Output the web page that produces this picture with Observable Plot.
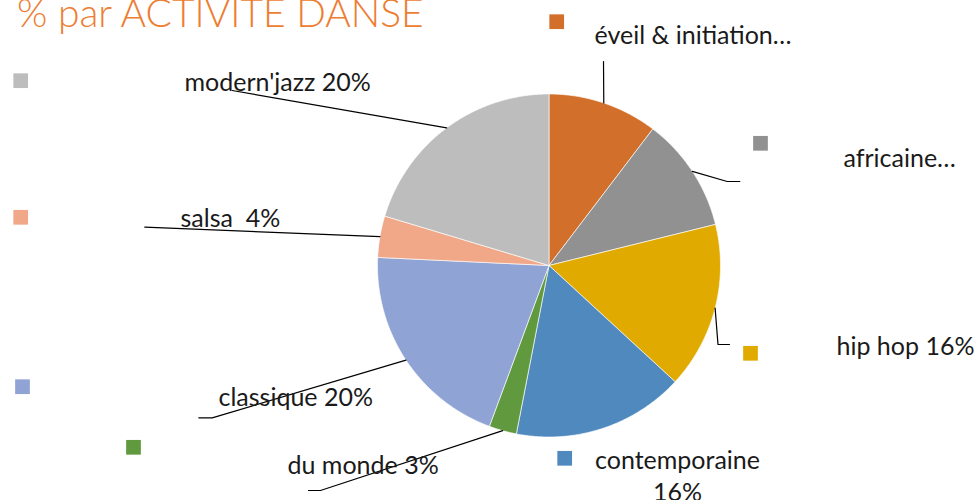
<!DOCTYPE html>
<html><head><meta charset="utf-8">
<script src="https://cdn.jsdelivr.net/npm/d3@7"></script>
<script src="https://cdn.jsdelivr.net/npm/@observablehq/plot@0.6"></script>
<style>
body{margin:0;background:#fff;}
#wrap{position:relative;width:976px;height:500px;overflow:hidden;}
#title{position:absolute;left:17px;top:-7px;margin:0;font-family:Lato,sans-serif;font-weight:300;font-size:39px;line-height:39px;color:#ED7D31;white-space:nowrap;z-index:2;}
#chart svg text{white-space:pre;}
</style></head><body>
<div id="wrap"><div id="title">% par ACTIVITE DANSE</div><div id="chart"></div></div>
<script>
// ---- data ----
const categories = ["éveil & initiation", "africaine", "hip hop", "contemporaine", "du monde", "classique", "salsa", "modern'jazz"];
const shares = [10.35, 10.8, 15.7, 16.2, 2.6, 20.1, 3.9, 20.35];
const labelTexts = ["éveil & initiation…", "africaine…", "hip hop 16%", "contemporaine\n16%", "du monde 3%", "classique 20%", "salsa  4%", "modern'jazz 20%"];

// ---- styles / layout (kept apart from the data) ----
const colors = ["#D2702B", "#919191", "#E1AA00", "#4F89BE", "#619A3E", "#8FA4D5", "#F0A889", "#BDBDBD"];
const W = 976, H = 500, cx = 548.5, cy = 265, R = 171.5;
const labelPos = [[594, 43, "start"], [843, 166, "start"], [836, 354, "start"], [677, 500, "middle"], [287, 473, "start"], [218, 405, "start"], [180, 226, "start"], [184, 90, "start"]];
const markerPos = [[556.7, 21.7], [760.5, 143.3], [750.5, 353.3], [564.7, 458.3], [133.5, 447.3], [22.5, 386.7], [20.7, 217.3], [20.7, 80.7]];
const leaderBends = [[[603, 61]], [[726.7, 181], [739.3, 181]], [[717.5, 344], [729, 344]], null, [[320, 490], [308, 490]], [[211.7, 417.3], [198.3, 417.3]], [[144.3, 226.7]], [[231.7, 90]]];
const markerSide = 14.7;
const fontSize = 25;

const data = categories.map((name, i) => ({name, value: shares[i], label: labelTexts[i], i}));
const arcs = d3.pie().sort(null).value(d => d.value)(data);

const slicePts = arcs.flatMap(a => {
  const n = Math.max(2, Math.ceil((a.endAngle - a.startAngle) / (Math.PI / 360)));
  const pts = [{name: a.data.name, x: cx, y: cy}];
  for (let k = 0; k <= n; k++) {
    const t = a.startAngle + (a.endAngle - a.startAngle) * k / n;
    pts.push({name: a.data.name, x: cx + R * Math.sin(t), y: cy - R * Math.cos(t)});
  }
  pts.push({name: a.data.name, x: cx, y: cy});
  return pts;
});

const leaderPts = arcs.flatMap(a => {
  const bends = leaderBends[a.data.i];
  if (!bends) return [];
  const m = (a.startAngle + a.endAngle) / 2;
  return [{name: a.data.name, x: cx + R * Math.sin(m), y: cy - R * Math.cos(m)}, ...bends.map(([x, y]) => ({name: a.data.name, x, y}))];
});

const markers = data.map(d => ({name: d.name, x1: markerPos[d.i][0] - markerSide / 2, x2: markerPos[d.i][0] + markerSide / 2, y1: markerPos[d.i][1] - markerSide / 2, y2: markerPos[d.i][1] + markerSide / 2}));
const labels = data.map(d => ({name: d.name, text: d.label, x: labelPos[d.i][0], y: labelPos[d.i][1], anchor: labelPos[d.i][2]}));

const textOpts = {x: "x", y: "y", text: "text", lineAnchor: "bottom", fontSize, fontFamily: "Lato, sans-serif", fill: "#1a1a1a"};

const chart = Plot.plot({
  width: W, height: H,
  marginTop: 0, marginRight: 0, marginBottom: 0, marginLeft: 0,
  x: {domain: [0, W], range: [0, W], axis: null},
  y: {domain: [0, H], range: [0, H], axis: null},
  color: {domain: categories, range: colors},
  marks: [
    Plot.line(slicePts, {x: "x", y: "y", z: "name", fill: "name", stroke: "#ffffff", strokeWidth: 0.8, strokeOpacity: 0.8, curve: "linear"}),
    Plot.line(leaderPts, {x: "x", y: "y", z: "name", stroke: "#000", strokeWidth: 1.2}),
    Plot.rect(markers, {x1: "x1", x2: "x2", y1: "y1", y2: "y2", fill: "name"}),
    Plot.text(labels.filter(d => d.anchor === "start"), {...textOpts, textAnchor: "start"}),
    Plot.text(labels.filter(d => d.anchor === "middle"), {...textOpts, textAnchor: "middle", lineHeight: 1.28})
  ]
});
document.getElementById("chart").append(chart);
</script>
</body></html>
